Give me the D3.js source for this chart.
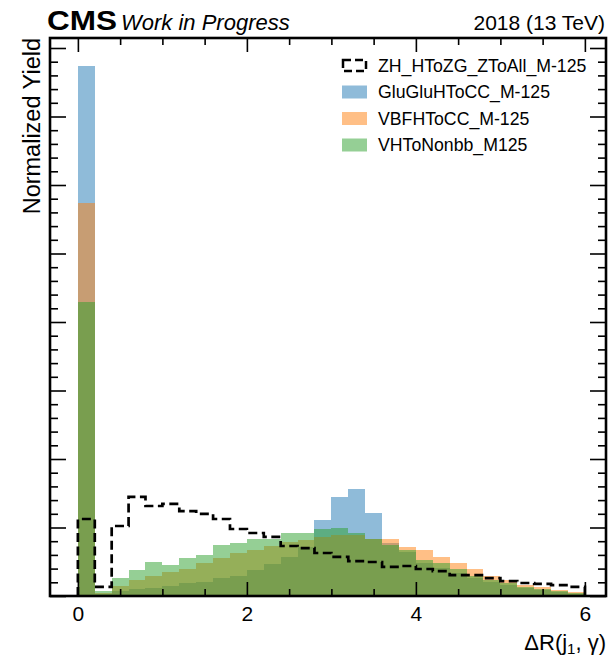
<!DOCTYPE html>
<html>
<head>
<meta charset="utf-8">
<script src="https://cdn.jsdelivr.net/npm/d3@7"></script>
<style>
  html, body { margin: 0; padding: 0; background: #fff; }
  svg { display: block; }
  text { font-family: "Liberation Sans", Arial, Helvetica, sans-serif; fill: #000; }
</style>
</head>
<body>
<svg id="chart" width="611" height="659"></svg>
<script>
// ---- data ----
const binEdges = d3.range(0, 6.0001, 0.2).map(v => +v.toFixed(1));
const seriesNames = ["ZH_HToZG_ZToAll_M-125", "GluGluHToCC_M-125", "VBFHToCC_M-125", "VHToNonbb_M125"];
const zhValues = [0.0562, 0.0066, 0.0511, 0.0723, 0.0657, 0.0672, 0.0620, 0.0599, 0.0562, 0.0489,
                  0.0460, 0.0431, 0.0365, 0.0350, 0.0314, 0.0285, 0.0255, 0.0248, 0.0212, 0.0219,
                  0.0197, 0.0182, 0.0153, 0.0153, 0.0131, 0.0109, 0.0095, 0.0088, 0.0080, 0.0066];
const ggValues = [0.3866, 0.0015, 0.0036, 0.0051, 0.0058, 0.0073, 0.0095, 0.0102, 0.0131, 0.0146,
                  0.0190, 0.0234, 0.0285, 0.0358, 0.0555, 0.0723, 0.0779, 0.0606, 0.0387, 0.0321,
                  0.0241, 0.0204, 0.0168, 0.0131, 0.0102, 0.0080, 0.0058, 0.0044, 0.0029, 0.0018];
const vbfValues = [0.2866, 0.0022, 0.0073, 0.0117, 0.0146, 0.0175, 0.0197, 0.0241, 0.0277, 0.0314,
                   0.0336, 0.0365, 0.0394, 0.0409, 0.0431, 0.0445, 0.0445, 0.0416, 0.0416, 0.0358,
                   0.0336, 0.0285, 0.0241, 0.0197, 0.0146, 0.0117, 0.0080, 0.0066, 0.0044, 0.0031];
const vhValues = [0.2143, 0.0036, 0.0131, 0.0190, 0.0248, 0.0226, 0.0277, 0.0299, 0.0372, 0.0387,
                  0.0416, 0.0416, 0.0460, 0.0460, 0.0489, 0.0496, 0.0460, 0.0416, 0.0372, 0.0336,
                  0.0263, 0.0241, 0.0197, 0.0146, 0.0117, 0.0095, 0.0066, 0.0051, 0.0036, 0.0022];
const xTickLabels = [0, 2, 4, 6];
const fillColors = ["#1f77b4", "#ff7f0e", "#2ca02c"];

// ---- layout ----
const svg = d3.select("#chart");
const L = 50, R = 606, T = 38, B = 596;
const x = d3.scaleLinear().domain([-0.33, 6.25]).range([L, R]);
const y = d3.scaleLinear().domain([0, 0.4073]).range([B, T]);

svg.append("defs").append("clipPath").attr("id", "clip")
  .append("rect").attr("x", L).attr("y", T).attr("width", R - L).attr("height", B - T);

const plot = svg.append("g").attr("clip-path", "url(#clip)");

// filled histograms (overlaid, alpha 0.5)
[ggValues, vbfValues, vhValues].forEach((vals, si) => {
  plot.append("g").selectAll("rect").data(vals).join("rect")
    .attr("x", (d, i) => x(binEdges[i]))
    .attr("width", (d, i) => x(binEdges[i + 1]) - x(binEdges[i]))
    .attr("y", d => y(d))
    .attr("height", d => y(0) - y(d))
    .attr("fill", fillColors[si])
    .attr("fill-opacity", 0.5)
    .attr("shape-rendering", "crispEdges");
});

// step outline for ZH
const stepPts = [[binEdges[0], 0]];
zhValues.forEach((v, i) => { stepPts.push([binEdges[i], v]); stepPts.push([binEdges[i + 1], v]); });
stepPts.push([binEdges[binEdges.length - 1], 0]);
plot.append("path")
  .attr("d", d3.line().x(d => x(d[0])).y(d => y(d[1]))(stepPts))
  .attr("fill", "none").attr("stroke", "#000").attr("stroke-width", 2.7)
  .attr("stroke-dasharray", "9,4.5");

// ---- axes ----
const majX = xTickLabels;
const minX = d3.range(0, 6.0001, 0.5).filter(v => !majX.includes(v));
const majY = d3.range(0, 0.4073, 0.05);
const minY = d3.range(0, 0.4073, 0.01).filter(v => Math.abs(v / 0.05 - Math.round(v / 0.05)) > 1e-6);

const bottomAxis = d3.axisBottom(x).tickValues(majX).tickSize(-14).tickPadding(25).tickFormat(d3.format("d"));
const gB = svg.append("g").attr("transform", `translate(0,${B})`).call(bottomAxis);
gB.append("g").call(d3.axisBottom(x).tickValues(minX).tickSize(-7).tickFormat(""));
const gT = svg.append("g").attr("transform", `translate(0,${T})`).call(d3.axisTop(x).tickValues(majX).tickSize(-14).tickFormat(""));
gT.append("g").call(d3.axisTop(x).tickValues(minX).tickSize(-7).tickFormat(""));
const gL = svg.append("g").attr("transform", `translate(${L},0)`).call(d3.axisLeft(y).tickValues(majY).tickSize(-16).tickFormat(""));
gL.append("g").call(d3.axisLeft(y).tickValues(minY).tickSize(-8).tickFormat(""));
const gR = svg.append("g").attr("transform", `translate(${R},0)`).call(d3.axisRight(y).tickValues(majY).tickSize(-16).tickFormat(""));
gR.append("g").call(d3.axisRight(y).tickValues(minY).tickSize(-8).tickFormat(""));

[gB, gT, gL, gR].forEach(g => {
  g.selectAll(".domain").remove();
  g.selectAll("line").attr("stroke", "#000").attr("stroke-width", 1.6);
});
gB.selectAll("text").attr("font-size", 21).attr("fill", "#000")
  .attr("font-family", "Liberation Sans, Arial, sans-serif").attr("dy", 0);

// frame
svg.append("rect").attr("x", L).attr("y", T).attr("width", R - L).attr("height", B - T)
  .attr("fill", "none").attr("stroke", "#000").attr("stroke-width", 2.6);

// ---- labels ----
svg.append("text").attr("x", 47).attr("y", 30).attr("font-size", 28).attr("font-weight", "bold")
  .attr("textLength", 70).attr("lengthAdjust", "spacingAndGlyphs").text("CMS");
svg.append("text").attr("x", 121).attr("y", 30).attr("font-size", 22).attr("font-style", "italic")
  .text("Work in Progress");
svg.append("text").attr("x", 605).attr("y", 30).attr("font-size", 21).attr("text-anchor", "end")
  .text("2018 (13 TeV)");

svg.append("text").attr("transform", "translate(40,38) rotate(-90)")
  .attr("text-anchor", "end").attr("font-size", 23.5).text("Normalized Yield");

const xl = svg.append("text").attr("x", 606).attr("y", 650).attr("text-anchor", "end").attr("font-size", 22);
xl.append("tspan").text("ΔR(j");
xl.append("tspan").attr("font-size", 15).attr("dy", 4).text("1");
xl.append("tspan").attr("dy", -4).text(", γ)");

// ---- legend ----
const leg = svg.append("g");
const rowY = [65.5, 92, 118.5, 145];
seriesNames.forEach((name, i) => {
  const g = leg.append("g").attr("transform", `translate(0,${rowY[i]})`);
  if (i === 0) {
    g.append("rect").attr("x", 343).attr("y", -5.5).attr("width", 23).attr("height", 11)
      .attr("fill", "none").attr("stroke", "#000").attr("stroke-width", 2.5).attr("stroke-dasharray", "8,4");
  } else {
    g.append("rect").attr("x", 342).attr("y", -6.5).attr("width", 25).attr("height", 13)
      .attr("fill", fillColors[i - 1]).attr("fill-opacity", 0.5);
  }
  g.append("text").attr("x", 378).attr("y", 0).attr("dy", "0.36em").attr("font-size", 17.7).text(name);
});
</script>
</body>
</html>
